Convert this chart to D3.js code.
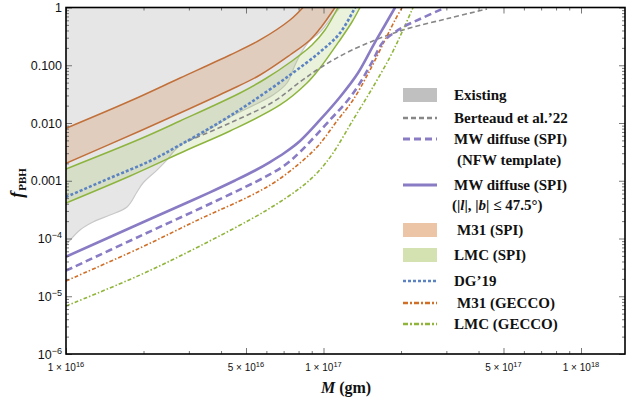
<!DOCTYPE html>
<html>
<head>
<meta charset="utf-8">
<script src="https://cdn.jsdelivr.net/npm/d3@7"></script>
<style>
  body { margin: 0; background: #fff; }
  svg { display: block; }
</style>
</head>
<body>
<div id="chart"></div>
<script>
// values: M in grams, f = f_PBH
const existingM = [1.0e16, 1.133e16, 1.273e16, 1.482e16, 1.725e16, 1.887e16, 1.991e16, 2.256e16, 2.467e16, 2.651e16, 2.899e16, 3.314e16, 4.335e16, 6.366e16, 7.216e16, 7.751e16, 8.103e16, 8.628e16, 9.867e16, 1.079e17, 1.159e17];
const existingF = [7.7e-5, 1.40e-4, 1.93e-4, 2.55e-4, 3.51e-4, 6.39e-4, 9.14e-4, 1.53e-3, 2.29e-3, 3.41e-3, 4.69e-3, 6.2e-3, 0.0127, 0.0305, 0.0493, 0.101, 0.1505, 0.233, 0.408, 0.685, 1.0];

const berteaudM = [2.977e16, 4.335e16, 6.366e16, 8.103e16, 9.692e16, 1.267e17, 1.982e17, 3.099e17, 4.315e17];
const berteaudF = [0.00488, 0.0100, 0.0231, 0.0513, 0.0897, 0.1765, 0.392, 0.658, 0.942];

const mwNfwM = [1.0e16, 1.938e16, 3.894e16, 6.034e16, 7.088e16, 8.103e16, 1.060e17, 1.245e17, 1.386e17, 1.543e17, 1.703e17, 1.896e17, 2.073e17, 2.370e17, 2.886e17];
const mwNfwF = [2.77e-5, 1.10e-4, 4.64e-4, 1.21e-3, 1.87e-3, 3.15e-3, 0.0113, 0.025, 0.0493, 0.1138, 0.253, 0.376, 0.478, 0.632, 0.942];

const mwDiskM = [1.0e16, 1.773e16, 3.113e16, 3.790e16, 4.533e16, 5.420e16, 6.197e16, 7.088e16, 8.103e16, 9.692e16, 1.159e17, 1.361e17, 1.571e17, 1.733e17, 1.896e17];
const mwDiskF = [4.84e-5, 1.52e-4, 4.64e-4, 6.92e-4, 1.01e-3, 1.505e-3, 2.11e-3, 3.08e-3, 4.88e-3, 0.0113, 0.0282, 0.0734, 0.233, 0.498, 1.0];

const m31SpiHiM = [1.0e16, 1.773e16, 2.772e16, 4.335e16, 5.668e16, 7.411e16, 8.325e16];
const m31SpiHiF = [0.0081, 0.0240, 0.0601, 0.1505, 0.274, 0.607, 1.0];
const m31SpiLoM = [1.0e16, 1.938e16, 2.772e16, 4.335e16, 5.668e16, 7.411e16, 8.864e16, 9.867e16, 1.108e17];
const m31SpiLoF = [0.0020, 0.00727, 0.0149, 0.0373, 0.0678, 0.1505, 0.274, 0.478, 1.0];

const lmcSpiHiM = [1.0e16, 1.938e16, 2.772e16, 4.740e16, 5.928e16, 7.545e16, 9.023e16, 1.013e17, 1.138e17];
const lmcSpiHiF = [0.0016, 0.00528, 0.01083, 0.0331, 0.0578, 0.1185, 0.224, 0.408, 1.0];
const lmcSpiLoM = [1.0e16, 1.773e16, 2.951e16, 4.335e16, 6.779e16, 8.628e16, 9.692e16, 1.159e17, 1.290e17, 1.386e17];
const lmcSpiLoF = [4.12e-4, 1.21e-3, 3.41e-3, 7.27e-3, 0.0205, 0.0493, 0.0897, 0.274, 0.561, 1.0];

const dg19M = [1.0e16, 1.482e16, 2.120e16, 2.772e16, 3.964e16, 5.183e16, 7.411e16, 9.692e16, 1.159e17, 1.326e17];
const dg19F = [5.23e-4, 1.115e-3, 2.2e-3, 4.16e-3, 0.0104, 0.0222, 0.0678, 0.1696, 0.362, 1.0];

const m31GeccoM = [1.0e16, 1.938e16, 3.314e16, 5.183e16, 6.481e16, 8.103e16, 9.52e16, 1.128e17, 1.302e17, 1.516e17, 1.733e17, 1.896e17, 2.018e17];
const m31GeccoF = [1.84e-5, 6.85e-5, 2.18e-4, 5.44e-4, 9.51e-4, 2.03e-3, 4.0e-3, 0.01083, 0.025, 0.0827, 0.274, 0.607, 1.0];

const lmcGeccoM = [1.0e16, 1.938e16, 3.314e16, 6.034e16, 8.103e16, 9.52e16, 1.089e17, 1.302e17, 1.516e17, 1.813e17, 2.036e17, 2.227e17];
const lmcGeccoF = [6.78e-6, 2.33e-5, 7.42e-5, 3.12e-4, 7.49e-4, 1.417e-3, 3.02e-3, 0.0113, 0.0344, 0.139, 0.408, 1.0];

// tick labels
const xTickValues = [1e16, 5e16, 1e17, 5e17, 1e18];
const xTickMant = ["1", "5", "1", "5", "1"];
const xTickExp = ["16", "16", "17", "17", "18"];
const yTickValues = [1, 0.1, 0.01, 0.001, 1e-4, 1e-5, 1e-6];
const yTickText = ["1", "0.100", "0.010", "0.001", "10", "10", "10"];
const yTickExp = ["", "", "", "", "\u22124", "\u22125", "\u22126"];

const width = 632;
const height = 405;
const margin = { top: 7.5, right: 7, bottom: 51, left: 66 };
const innerWidth = width - margin.left - margin.right;
const innerHeight = height - margin.top - margin.bottom;

const svg = d3.select("#chart")
  .append("svg")
  .attr("width", width)
  .attr("height", height);

const xScale = d3.scaleLog()
  .domain([1e16, 1.482e18])
  .range([0, innerWidth]);

const yScale = d3.scaleLog()
  .domain([1e-6, 1])
  .range([innerHeight, 0]);

svg.append("defs").append("clipPath")
  .attr("id", "plotClip")
  .append("rect")
  .attr("width", innerWidth)
  .attr("height", innerHeight);

const innerChart = svg.append("g")
  .attr("transform", `translate(${margin.left}, ${margin.top})`);

const plot = innerChart.append("g").attr("clip-path", "url(#plotClip)");

const zip = (ms, fs) => ms.map((m, i) => [m, fs[i]]);

const line = d3.line()
  .x(d => xScale(d[0]))
  .y(d => yScale(d[1]))
  .curve(d3.curveCatmullRom.alpha(0.5));

// band between two curves that both end at the top edge
const bandPath = (hi, lo) =>
  line(hi) + line(lo.slice().reverse()).replace(/^M/, "L") + "Z";

// existing constraints (gray region)
const existing = zip(existingM, existingF);
plot.append("path")
  .attr("d", line(existing) + `L0,${yScale(1)}Z`)
  .attr("fill", "#e6e6e6");
plot.append("path")
  .attr("d", line(existing))
  .attr("fill", "none")
  .attr("stroke", "#c8c8c8")
  .attr("stroke-width", 1.2);

// M31 (SPI) band
const m31Hi = zip(m31SpiHiM, m31SpiHiF);
const m31Lo = zip(m31SpiLoM, m31SpiLoF);
plot.append("path")
  .attr("d", bandPath(m31Hi, m31Lo))
  .attr("fill", "rgb(214,150,100)")
  .attr("fill-opacity", 0.3);

// LMC (SPI) band
const lmcHi = zip(lmcSpiHiM, lmcSpiHiF);
const lmcLo = zip(lmcSpiLoM, lmcSpiLoF);
plot.append("path")
  .attr("d", bandPath(lmcHi, lmcLo))
  .attr("fill", "rgb(160,195,90)")
  .attr("fill-opacity", 0.22);

const curves = [
  { pts: m31Hi, color: "#c2703a", w: 1.5, dash: null },
  { pts: m31Lo, color: "#c2703a", w: 1.5, dash: null },
  { pts: lmcHi, color: "#8db43e", w: 1.5, dash: null },
  { pts: lmcLo, color: "#8db43e", w: 1.5, dash: null },
  { pts: zip(berteaudM, berteaudF), color: "#878787", w: 1.6, dash: "5,3" },
  { pts: zip(dg19M, dg19F), color: "#5b82c2", w: 2.6, dash: "3,2" },
  { pts: zip(lmcGeccoM, lmcGeccoF), color: "#90b53a", w: 1.6, dash: "4,2,1.5,2" },
  { pts: zip(m31GeccoM, m31GeccoF), color: "#d06f28", w: 1.6, dash: "4,2,1.5,2" },
  { pts: zip(mwNfwM, mwNfwF), color: "#8a7cc4", w: 2.6, dash: "7,4" },
  { pts: zip(mwDiskM, mwDiskF), color: "#8a7cc4", w: 2.6, dash: null }
];

plot.selectAll("path.curve")
  .data(curves)
  .join("path")
  .attr("class", "curve")
  .attr("d", d => line(d.pts))
  .attr("fill", "none")
  .attr("stroke", d => d.color)
  .attr("stroke-width", d => d.w)
  .attr("stroke-dasharray", d => d.dash);

// ticks (inside, on all four sides)
const minorX = [];
[16, 17, 18].forEach(e => d3.range(1, 10).forEach(k => {
  const v = k * Math.pow(10, e);
  if (v <= 1.482e18 && !xTickValues.includes(v)) minorX.push(v);
}));
const minorY = [];
[-6, -5, -4, -3, -2, -1].forEach(e => d3.range(2, 10).forEach(k => minorY.push(k * Math.pow(10, e))));

const axisGroups = [
  [d3.axisBottom(xScale).tickValues(xTickValues).tickSize(-6), `translate(0, ${innerHeight})`],
  [d3.axisBottom(xScale).tickValues(minorX).tickSize(-3), `translate(0, ${innerHeight})`],
  [d3.axisTop(xScale).tickValues(xTickValues).tickSize(-6), null],
  [d3.axisTop(xScale).tickValues(minorX).tickSize(-3), null],
  [d3.axisLeft(yScale).tickValues(yTickValues).tickSize(-6), null],
  [d3.axisLeft(yScale).tickValues(minorY).tickSize(-3), null],
  [d3.axisRight(yScale).tickValues(yTickValues).tickSize(-6), `translate(${innerWidth}, 0)`],
  [d3.axisRight(yScale).tickValues(minorY).tickSize(-3), `translate(${innerWidth}, 0)`]
];
axisGroups.forEach(([axis, tr]) => {
  const g = innerChart.append("g").call(axis.tickFormat(""));
  if (tr) g.attr("transform", tr);
  g.select(".domain").remove();
  g.selectAll("text").remove();
  g.selectAll("line").attr("stroke", "#555").attr("stroke-width", 0.8);
});

innerChart.append("rect")
  .attr("width", innerWidth)
  .attr("height", innerHeight)
  .attr("fill", "none")
  .attr("stroke", "#000")
  .attr("stroke-width", 1.6);

// tick labels
const tickFont = "'Liberation Sans', Arial, sans-serif";
const yLab = innerChart.selectAll("text.ylab")
  .data(yTickValues)
  .join("text")
  .attr("class", "ylab")
  .attr("x", -4)
  .attr("y", d => yScale(d) + 4.5)
  .attr("text-anchor", "end")
  .attr("font-family", tickFont)
  .attr("font-size", "12.5px")
  .attr("fill", "#111");
yLab.append("tspan").text((d, i) => yTickText[i]);
yLab.filter((d, i) => yTickExp[i] !== "")
  .append("tspan")
  .attr("font-size", "9px")
  .attr("dy", "-5")
  .text(d => yTickExp[yTickValues.indexOf(d)]);

const xLab = innerChart.selectAll("text.xlab")
  .data(xTickValues)
  .join("text")
  .attr("class", "xlab")
  .attr("x", d => xScale(d))
  .attr("y", innerHeight + 17)
  .attr("text-anchor", "middle")
  .attr("font-family", tickFont)
  .attr("font-size", "10px")
  .attr("fill", "#111");
xLab.append("tspan").text((d, i) => `${xTickMant[i]} \u00d7 10`);
xLab.append("tspan")
  .attr("font-size", "7.5px")
  .attr("dy", "-4")
  .text((d, i) => xTickExp[i]);

// axis labels
const serif = "'Liberation Serif', 'Times New Roman', serif";
const yTitle = svg.append("text")
  .attr("transform", "translate(23, 183) rotate(-90)")
  .attr("text-anchor", "middle")
  .attr("font-family", serif)
  .attr("font-weight", "bold")
  .attr("fill", "#111");
yTitle.append("tspan").attr("font-style", "italic").attr("font-size", "18px").text("f");
yTitle.append("tspan").attr("font-size", "11px").attr("dy", "3").attr("dx", "1").text("PBH");

const xTitle = svg.append("text")
  .attr("x", 346)
  .attr("y", 393)
  .attr("text-anchor", "middle")
  .attr("font-family", serif)
  .attr("font-weight", "bold")
  .attr("font-size", "16px")
  .attr("fill", "#111");
xTitle.append("tspan").attr("font-style", "italic").text("M");
xTitle.append("tspan").text(" (gm)");

// legend
const legend = svg.append("g")
  .attr("font-family", serif)
  .attr("font-weight", "bold")
  .attr("font-size", "15px")
  .attr("fill", "#111");

const legendItems = [
  { kind: "box", fill: "#c0c0c0", y: 95, label: "Existing", tx: 454 },
  { kind: "line", color: "#878787", w: 2.4, dash: "5,3", y: 118, label: "Berteaud et al.\u201922", tx: 454 },
  { kind: "line", color: "#8a7cc4", w: 2.8, dash: "7,4", y: 139, label: "MW diffuse (SPI)", tx: 454 },
  { kind: "text", y: 160, label: "(NFW template)", tx: 457 },
  { kind: "line", color: "#8a7cc4", w: 2.8, dash: null, y: 185, label: "MW diffuse (SPI)", tx: 454 },
  { kind: "cond", y: 205, tx: 452 },
  { kind: "box", fill: "#ebc5a5", y: 230, label: "M31 (SPI)", tx: 457 },
  { kind: "box", fill: "#d3e2b0", y: 255, label: "LMC (SPI)", tx: 454 },
  { kind: "line", color: "#5b82c2", w: 2.6, dash: "3,2", y: 281, label: "DG\u201919", tx: 454 },
  { kind: "line", color: "#d06f28", w: 2.4, dash: "5,2,2,2", y: 303, label: "M31 (GECCO)", tx: 457 },
  { kind: "line", color: "#90b53a", w: 2.4, dash: "5,2,2,2", y: 324, label: "LMC (GECCO)", tx: 454 }
];

legendItems.forEach(item => {
  if (item.kind === "box") {
    legend.append("rect")
      .attr("x", 403).attr("y", item.y - 7)
      .attr("width", 34).attr("height", 14)
      .attr("fill", item.fill);
  } else if (item.kind === "line") {
    legend.append("line")
      .attr("x1", 403).attr("x2", 437)
      .attr("y1", item.y).attr("y2", item.y)
      .attr("stroke", item.color)
      .attr("stroke-width", item.w)
      .attr("stroke-dasharray", item.dash);
  }
  const t = legend.append("text")
    .attr("x", item.tx)
    .attr("y", item.y + 5);
  if (item.kind === "cond") {
    t.append("tspan").text("(|");
    t.append("tspan").attr("font-style", "italic").text("l");
    t.append("tspan").text("|, |");
    t.append("tspan").attr("font-style", "italic").text("b");
    t.append("tspan").text("| \u2264 47.5\u00b0)");
  } else {
    t.text(item.label);
  }
});
</script>
</body>
</html>
